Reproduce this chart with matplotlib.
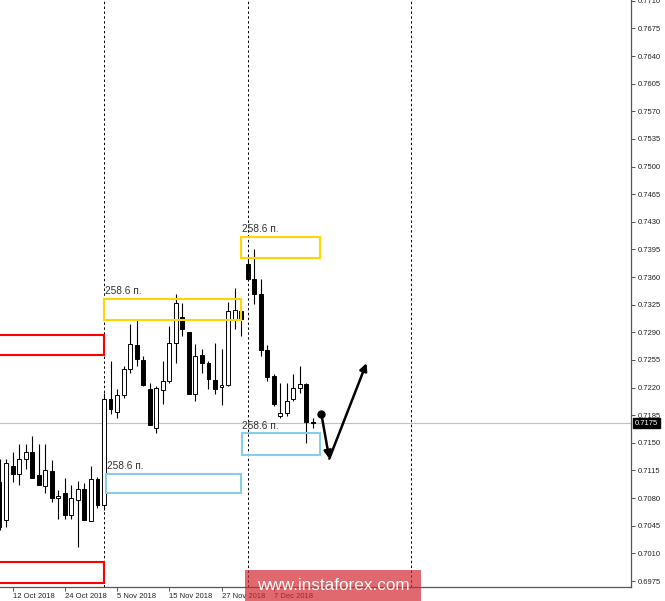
import matplotlib.pyplot as plt
import matplotlib.transforms as mtransforms
from matplotlib.patches import Rectangle

plt.rcParams['font.family'] = ['Liberation Sans', 'DejaVu Sans']

# daily bars, index 0 = 1 Nov 2018
bar_index = list(range(-16, 33))
opens = [0.7100, 0.7052, 0.7121, 0.7111, 0.7129, 0.7138, 0.7109, 0.7095,
         0.7114, 0.7080, 0.7086, 0.7058, 0.7077, 0.7092, 0.7051, 0.7104,
         0.7071, 0.7206, 0.7189, 0.7211, 0.7244, 0.7274, 0.7255, 0.7218,
         0.7169, 0.7217, 0.7228, 0.7276, 0.7309, 0.7291, 0.7212, 0.7261,
         0.7251, 0.7230, 0.7221, 0.7223, 0.7305, 0.7317, 0.7377, 0.7357,
         0.7338, 0.7268, 0.7235, 0.7184, 0.7188, 0.7205, 0.7220, 0.7225,
         0.7176]
highs = [0.7130, 0.7130, 0.7138, 0.7149, 0.7149, 0.7159, 0.7149, 0.7149,
         0.7128, 0.7090, 0.7105, 0.7096, 0.7102, 0.7099, 0.7121, 0.7107,
         0.7213, 0.7254, 0.7218, 0.7247, 0.7300, 0.7307, 0.7260, 0.7226,
         0.7222, 0.7254, 0.7298, 0.7338, 0.7327, 0.7291, 0.7275, 0.7269,
         0.7254, 0.7276, 0.7269, 0.7329, 0.7346, 0.7323, 0.7386, 0.7395,
         0.7357, 0.7274, 0.7237, 0.7226, 0.7226, 0.7237, 0.7247, 0.7226,
         0.7181]
lows = [0.7039, 0.7044, 0.7100, 0.7096, 0.7117, 0.7105, 0.7096, 0.7087,
        0.7075, 0.7053, 0.7054, 0.7054, 0.7018, 0.7052, 0.7051, 0.7067,
        0.7065, 0.7187, 0.7181, 0.7207, 0.7239, 0.7247, 0.7222, 0.7172,
        0.7163, 0.7199, 0.7226, 0.7251, 0.7285, 0.7212, 0.7203, 0.7239,
        0.7218, 0.7212, 0.7198, 0.7222, 0.7294, 0.7285, 0.7355, 0.7326,
        0.7260, 0.7228, 0.7197, 0.7182, 0.7184, 0.7203, 0.7213, 0.7150,
        0.7169]
closes = [0.7043, 0.7124, 0.7111, 0.7130, 0.7138, 0.7106, 0.7096, 0.7116,
          0.7080, 0.7083, 0.7059, 0.7080, 0.7092, 0.7052, 0.7104, 0.7071,
          0.7206, 0.7193, 0.7211, 0.7244, 0.7275, 0.7256, 0.7223, 0.7172,
          0.7220, 0.7228, 0.7276, 0.7327, 0.7294, 0.7212, 0.7260, 0.7251,
          0.7231, 0.7218, 0.7223, 0.7317, 0.7318, 0.7307, 0.7357, 0.7338,
          0.7268, 0.7234, 0.7199, 0.7188, 0.7203, 0.7220, 0.7225, 0.7176,
          0.7175]

date_ticks = [-14, -6, 2, 10, 18, 26]
date_labels = ['12 Oct 2018', '24 Oct 2018', '5 Nov 2018', '15 Nov 2018',
               '27 Nov 2018', '7 Dec 2018']
separators = [0, 22, 47]
last_price = 0.7175
price_ticks = [round(0.6975 + 0.0035 * k, 4) for k in range(22)]

# zones: (x0, x1, lower, upper, colour)
zones = [
    (-20, 0, 0.7261, 0.7286, 'red'),
    (-20, 0, 0.6972, 0.6999, 'red'),
    (0, 21, 0.7305, 0.7332, '#FFD700'),
    (0.3, 21, 0.7086, 0.7111, '#87CEEB'),
    (21, 33.1, 0.7384, 0.7411, '#FFD700'),
    (21.1, 33.1, 0.7135, 0.7162, '#87CEEB'),
]
zone_label = '258.6 п.'
labelled = [2, 3, 4, 5]

# forecast path
path_x = [33.3, 34.5, 40.2]
path_y = [0.7186, 0.7130, 0.7251]

fig = plt.figure(figsize=(6.65, 6.01), dpi=100)
ax = fig.add_axes([0, 14 / 601, 631 / 665, 587 / 601])
ax.set_xlim(-104 / 6.53, 527 / 6.53)
ax.set_ylim(0.69674, 0.7711)

# separators and last price line
for s in separators:
    ax.axvline(s, color='black', lw=0.7, dashes=(2.5, 2.5), zorder=1)
ax.axhline(last_price, color='#c0c0c0', lw=0.8, zorder=1)

# candles
for i, o, h, l, c in zip(bar_index, opens, highs, lows, closes):
    ax.vlines(i, l, h, color='black', lw=0.8, zorder=2)
    up = c >= o
    body = max(abs(c - o), 0.00004)
    ax.bar(i, body, bottom=min(o, c), width=0.6,
           color='white' if up else 'black', edgecolor='black',
           linewidth=0.7, zorder=3)

# zones
for k, (x0, x1, lo, hi, col) in enumerate(zones):
    ax.add_patch(Rectangle((x0, lo), x1 - x0, hi - lo, fill=False,
                           edgecolor=col, lw=1.5, zorder=4))
    if k in labelled:
        ax.annotate(zone_label, (x0, hi), xytext=(0.5, 2), textcoords='offset points',
                    ha='left', va='bottom', fontsize=7.3, color='#333333')

# forecast arrows
ax.plot(path_x[0], path_y[0], 'o', color='black', ms=5, zorder=6)
for j in range(2):
    ax.annotate('', xy=(path_x[j + 1], path_y[j + 1]), xytext=(path_x[j], path_y[j]),
                arrowprops=dict(arrowstyle='-|>', color='black', lw=1.8,
                                mutation_scale=11, shrinkA=0, shrinkB=0),
                zorder=6)

# axes styling
for side in ['left', 'top']:
    ax.spines[side].set_visible(False)
for side in ['right', 'bottom']:
    ax.spines[side].set_color('#555555')
    ax.spines[side].set_linewidth(0.9)
ax.yaxis.tick_right()
ax.set_yticks(price_ticks)
ax.set_yticklabels([f'{v:.4f}' for v in price_ticks])
ax.tick_params(axis='y', direction='out', length=3, width=0.7, labelsize=5.5,
               pad=2, colors='#555555', labelcolor='#222222')
ax.set_xticks(date_ticks)
ax.set_xticklabels(date_labels)
ax.tick_params(axis='x', direction='out', length=3, width=0.7, labelsize=5.5,
               pad=1.5, colors='#555555', labelcolor='#222222')
for lbl in ax.get_xticklabels():
    lbl.set_ha('left')

# last price tag on the axis
tr = mtransforms.blended_transform_factory(ax.transAxes, ax.transData)
ax.text(1.006, last_price, f'{last_price:.4f}', transform=tr, ha='left', va='center',
        fontsize=5.5, color='white', clip_on=False, zorder=7,
        bbox=dict(boxstyle='square,pad=0.2', fc='black', ec='black'))

# watermark
fig.patches.append(Rectangle((245 / 665, 0), 176 / 665, 31 / 601, transform=fig.transFigure,
                             facecolor='#d42a32', alpha=0.7, edgecolor='none', zorder=10))
fig.text(333 / 665, 15 / 601, 'www.instaforex.com', ha='center', va='center',
         fontsize=12.3, color='white', zorder=11)

fig.savefig('out.png', dpi=100)
